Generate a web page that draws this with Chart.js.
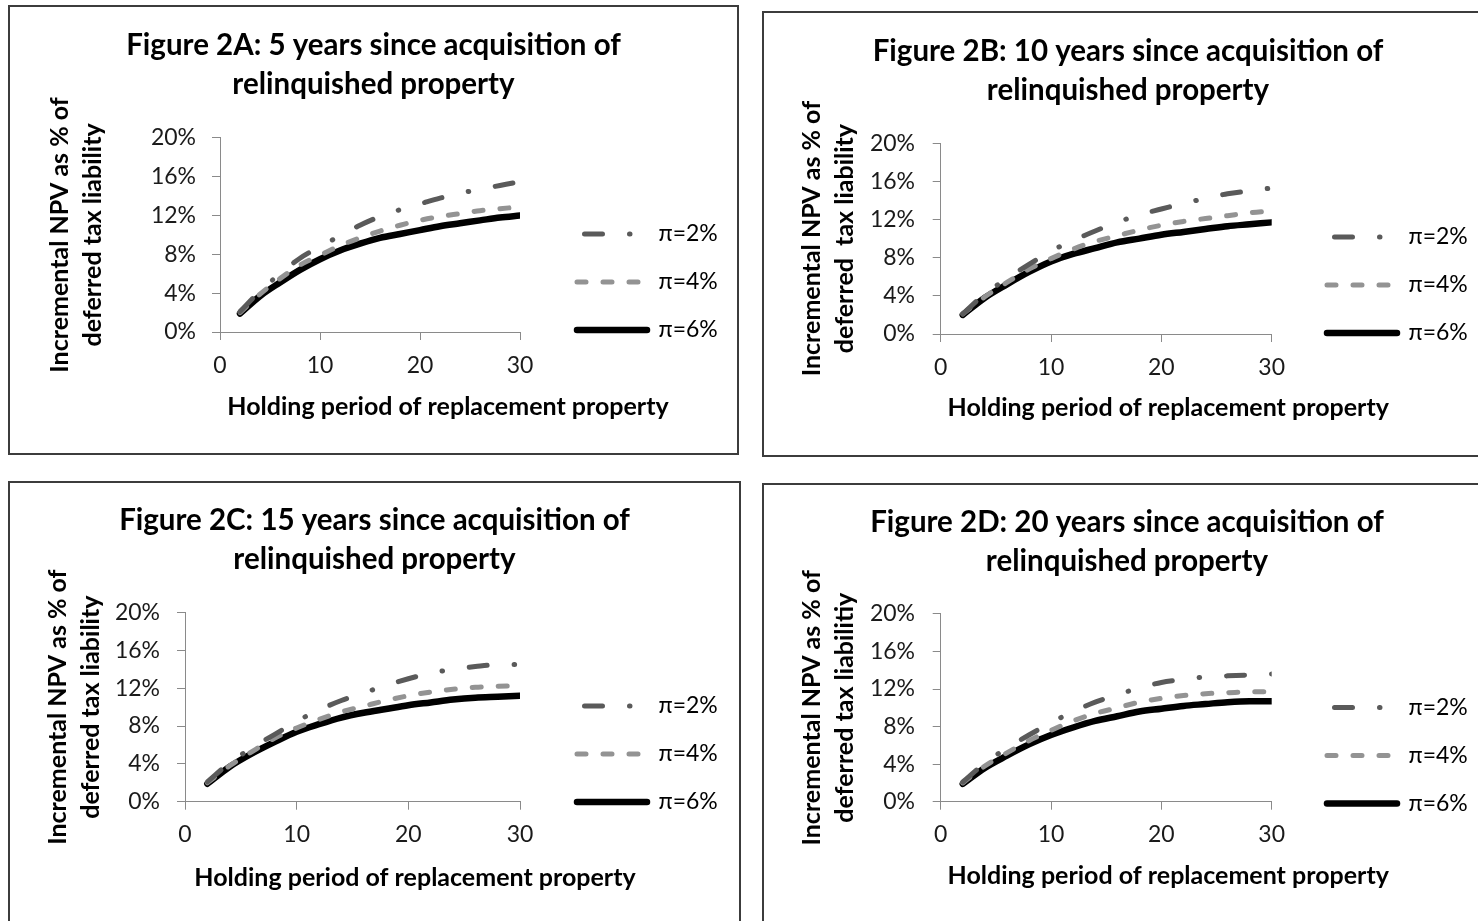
<!DOCTYPE html>
<html><head><meta charset="utf-8">
<script src="https://cdn.jsdelivr.net/npm/chart.js@4.4.1/dist/chart.umd.min.js"></script>
<style>
html,body{margin:0;padding:0;background:#fff;width:1478px;height:921px;overflow:hidden;position:relative;}
.panel{position:absolute;border:2px solid #3c3c3c;background:#fff;}
.panel canvas{display:block;}
</style></head><body>
<div class="panel" style="left:8px;top:5px;"><canvas id="cA" width="727" height="446"></canvas></div>
<div class="panel" style="left:762px;top:11px;"><canvas id="cB" width="728" height="442"></canvas></div>
<div class="panel" style="left:8px;top:481px;"><canvas id="cC" width="729" height="446"></canvas></div>
<div class="panel" style="left:762px;top:483px;"><canvas id="cD" width="726" height="446"></canvas></div>
<script>
// ---- data ----
const years = [2,4,6,8,10,12,14,16,18,20,22,24,26,28,30];
const xTicks = [0,10,20,30];
const yTicks = [0,4,8,12,16,20];
const seriesNames = ['π=2%','π=4%','π=6%'];

const pi2A = [2.1,4.2,6.0,7.6,8.8,9.9,11.0,11.9,12.6,13.2,13.8,14.3,14.7,15.1,15.5];
const pi4A = [2.0,3.9,5.5,6.9,7.9,8.9,9.7,10.4,11.0,11.5,11.9,12.2,12.5,12.7,12.9];
const pi6A = [1.9,3.7,5.1,6.4,7.5,8.4,9.1,9.7,10.1,10.5,10.9,11.2,11.5,11.8,12.0];

const pi2B = [2.1,4.2,5.8,7.3,8.7,9.8,10.8,11.7,12.5,13.1,13.7,14.2,14.7,15.0,15.3];
const pi4B = [2.1,3.9,5.4,6.8,7.9,8.9,9.7,10.3,10.9,11.4,11.8,12.1,12.4,12.7,12.9];
const pi6B = [2.0,3.8,5.2,6.5,7.6,8.4,9.0,9.6,10.0,10.4,10.7,11.0,11.3,11.5,11.7];

const pi2C = [2.1,4.1,5.7,7.1,8.5,9.7,10.7,11.5,12.3,13.0,13.6,14.0,14.3,14.5,14.5];
const pi4C = [2.0,3.8,5.3,6.7,7.8,8.7,9.5,10.1,10.7,11.2,11.6,11.9,12.1,12.2,12.3];
const pi6C = [1.9,3.7,5.1,6.3,7.4,8.2,8.9,9.4,9.8,10.2,10.5,10.8,11.0,11.1,11.2];

const pi2D = [2.1,4.1,5.7,7.1,8.4,9.6,10.6,11.4,12.1,12.7,13.0,13.3,13.4,13.5,13.6];
const pi4D = [2.0,3.8,5.2,6.5,7.6,8.6,9.4,10.0,10.6,11.0,11.3,11.5,11.6,11.7,11.7];
const pi6D = [1.9,3.6,4.9,6.1,7.1,7.9,8.6,9.1,9.6,9.9,10.2,10.4,10.6,10.7,10.7];

const titleA = ['Figure 2A: 5 years since acquisition of','relinquished property'];
const titleB = ['Figure 2B: 10 years since acquisition of','relinquished property'];
const titleC = ['Figure 2C: 15 years since acquisition of','relinquished property'];
const titleD = ['Figure 2D: 20 years since acquisition of','relinquished property'];
const yTitleA = ['Incremental NPV as % of','deferred tax liability'];
const yTitleB = ['Incremental NPV as % of','deferred  tax liability'];
const yTitleC = ['Incremental NPV as % of','deferred tax liability'];
const yTitleD = ['Incremental NPV as % of','deferred tax liabilitiy'];
const xTitle = 'Holding period of replacement property';

// ---- styling ----
const FONT = 'Lato, "Open Sans", sans-serif';
Chart.defaults.font.family = FONT;
const LEG_FONT = 23, LEG_PAD = 25, LEG_BOX = 70;
const seriesStyles = [
  {borderColor:'#5a5a5a', borderWidth:5, borderDash:[18,27,0.5,27], borderCapStyle:'round', legendDashOffset:65},
  {borderColor:'#939393', borderWidth:5, borderDash:[9,17], borderCapStyle:'round', legendDashOffset:0},
  {borderColor:'#000000', borderWidth:6.5, borderDash:[], borderCapStyle:'round', legendDashOffset:0}
];

const xTitlePlugin = {
  id: 'xTitleText',
  afterDraw(chart, args, opts) {
    const ca = chart.chartArea, ctx = chart.ctx;
    ctx.save();
    ctx.font = 'bold 25px ' + FONT;
    ctx.fillStyle = '#000';
    ctx.textAlign = 'center';
    ctx.textBaseline = 'middle';
    ctx.fillText(opts.text, (ca.left + ca.right) / 2 + opts.dx, ca.bottom + opts.dy);
    ctx.restore();
  }
};

function legendLabels(chart) {
  return chart.data.datasets.map((ds, i) => ({
    text: ds.label,
    datasetIndex: i,
    hidden: false,
    strokeStyle: ds.borderColor,
    fillStyle: ds.borderColor,
    fontColor: '#000',
    lineWidth: ds.borderWidth,
    lineDash: ds.borderDash,
    lineDashOffset: seriesStyles[i].legendDashOffset,
    lineCap: ds.borderCapStyle,
    pointStyle: 'line'
  }));
}

// measured legend width so the plot area lands where intended
const mctx = document.createElement('canvas').getContext('2d');
mctx.font = 'normal ' + LEG_FONT + 'px ' + FONT;
const legTextW = Math.max(...seriesNames.map(s => mctx.measureText(s).width));
const legendW = LEG_PAD + LEG_BOX + LEG_FONT / 2 + legTextW + 10;

function makeChart(id, title, yTitle, series, L) {
  const canvas = document.getElementById(id);
  const W = canvas.width, H = canvas.height;
  const pad = Math.max(0, W - L.right - L.gap - legendW);
  const yW = L.left - pad;
  const yTPt = L.yTitleX - pad - 16.5;
  const datasets = series.map((vals, i) => ({
    label: seriesNames[i],
    data: years.map((x, j) => ({x: x, y: vals[j]})),
    fill: false,
    pointRadius: 0,
    cubicInterpolationMode: 'monotone',
    borderJoinStyle: 'round',
    borderColor: seriesStyles[i].borderColor,
    borderWidth: seriesStyles[i].borderWidth,
    borderDash: seriesStyles[i].borderDash,
    borderCapStyle: seriesStyles[i].borderCapStyle
  }));
  const gridOpts = {display:true, drawOnChartArea:false, drawTicks:true, tickLength:8, color:'#8a8a8a', lineWidth:1};
  return new Chart(canvas, {
    type: 'line',
    data: {datasets},
    plugins: [xTitlePlugin],
    options: {
      responsive: false,
      animation: false,
      devicePixelRatio: 1,
      layout: {padding: {left: pad, right: pad, top: 0, bottom: 0}},
      plugins: {
        title: {display:true, text:title, color:'#000', font:{size:29.5, weight:'bold', lineHeight:1.32}, padding:{top:L.tPt, bottom:L.tPb}},
        legend: {display:true, position:'right', align:'start', maxWidth:400,
          title:{display:true, text:' ', font:{size:12, lineHeight:1}, padding:{top:L.legT - 12, bottom:0}},
          labels:{usePointStyle:true, pointStyle:'line', pointStyleWidth:LEG_BOX, padding:LEG_PAD, color:'#000', font:{size:LEG_FONT},
            generateLabels: legendLabels}},
        tooltip: {enabled:false},
        xTitleText: {text:xTitle, dx:L.xtDx, dy:L.xtDy}
      },
      scales: {
        x: {type:'linear', min:0, max:30,
          afterBuildTicks: s => { s.ticks = xTicks.map(v => ({value:v})); },
          grid: gridOpts, border:{display:true, color:'#8a8a8a', width:1},
          ticks:{padding:L.xPad, color:'#1a1a1a', font:{size:23}, maxRotation:0},
          afterFit: s => { s.height = H - L.bottom; }},
        y: {type:'linear', min:0, max:20,
          afterBuildTicks: s => { s.ticks = yTicks.map(v => ({value:v})); },
          grid: gridOpts, border:{display:true, color:'#8a8a8a', width:1},
          ticks:{padding:L.yPad, color:'#1a1a1a', font:{size:23}, callback: v => v + '%'},
          title:{display:true, text:yTitle, color:'#000', font:{size:25, weight:'bold', lineHeight:1.32}, padding:{top:yTPt, bottom:0}},
          afterFit: s => { s.width = yW; }},
        gap: {type:'linear', position:'right', display:true,
          grid:{display:false, drawTicks:false}, border:{display:false}, ticks:{display:false},
          afterFit: s => { s.width = L.gap; }}
      }
    }
  });
}

makeChart('cA', titleA, yTitleA, [pi2A, pi4A, pi6A],
  {left:210, right:510, bottom:325, tPt:19.5, tPb:33.5, yTitleX:50, yPad:16, xPad:12.2, gap:32, legT:190.5, xtDx:78, xtDy:75});
makeChart('cB', titleB, yTitleB, [pi2B, pi4B, pi6B],
  {left:176.7, right:507.7, bottom:321, tPt:19.5, tPb:32.8, yTitleX:48, yPad:17.7, xPad:12.2, gap:30.3, legT:187.5, xtDx:62, xtDy:74});
makeChart('cC', titleC, yTitleC, [pi2C, pi4C, pi6C],
  {left:175, right:510, bottom:318.7, tPt:18.5, tPb:33.2, yTitleX:48, yPad:17, xPad:11.5, gap:32, legT:186.5, xtDx:62.5, xtDy:76});
makeChart('cD', titleD, yTitleD, [pi2D, pi4D, pi6D],
  {left:176.7, right:507.7, bottom:316.7, tPt:18.5, tPb:32.5, yTitleX:48, yPad:17.7, xPad:11.5, gap:30.3, legT:186, xtDx:62, xtDy:74});
</script>
</body></html>
